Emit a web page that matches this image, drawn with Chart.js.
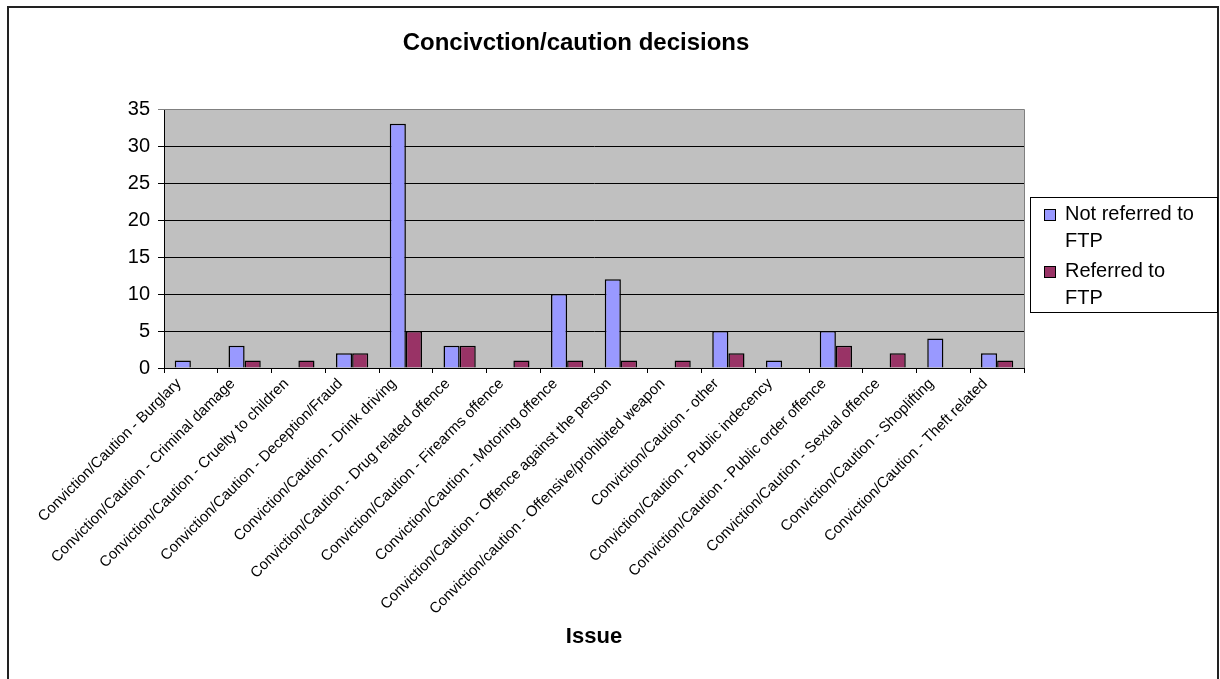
<!DOCTYPE html>
<html>
<head>
<meta charset="utf-8">
<script src="https://cdn.jsdelivr.net/npm/chart.js@4/dist/chart.umd.min.js"></script>
<style>
  html, body { margin: 0; padding: 0; background: #fff; }
  #wrap { width: 1220px; height: 679px; position: relative; }
</style>
</head>
<body>
<div id="wrap"><canvas id="chart1" width="1220" height="679"></canvas></div>
<script>
const categories = [
  "Conviction/Caution - Burglary",
  "Conviction/Caution - Criminal damage",
  "Conviction/Caution - Cruelty to children",
  "Conviction/Caution - Deception/Fraud",
  "Conviction/Caution - Drink driving",
  "Conviction/Caution - Drug related offence",
  "Conviction/Caution - Firearms offence",
  "Conviction/Caution - Motoring offence",
  "Conviction/Caution - Offence against the person",
  "Conviction/caution - Offensive/prohibited weapon",
  "Conviction/Caution - other",
  "Conviction/Caution - Public indecency",
  "Conviction/Caution - Public order offence",
  "Conviction/Caution - Sexual offence",
  "Conviction/Caution - Shoplifting",
  "Conviction/Caution - Theft related"
];
const notReferred = [1, 3, 0, 2, 33, 3, 0, 10, 12, 0, 5, 1, 5, 0, 4, 2];
const referred    = [0, 1, 1, 2, 5, 3, 1, 1, 1, 1, 2, 0, 3, 2, 0, 1];
const yTicks = [0, 5, 10, 15, 20, 25, 30, 35];
const legendLines = [["Not referred to", "FTP"], ["Referred to", "FTP"]];

const ctx1 = document.getElementById('chart1').getContext('2d');

// grey plot area, frame, title and the two-line legend
const decor = {
  id: 'decor',
  beforeDraw(chart) {
    const c = chart.ctx, a = chart.chartArea;
    c.save();
    c.fillStyle = '#fff';
    c.fillRect(0, 0, chart.width, chart.height);
    c.fillStyle = '#C0C0C0';
    c.fillRect(a.left, a.top, a.right - a.left, a.bottom - a.top);
    c.restore();
  },
  afterDraw(chart) {
    const c = chart.ctx, a = chart.chartArea;
    c.save();
    // plot frame right/top in grey
    c.strokeStyle = '#808080';
    c.lineWidth = 1;
    c.beginPath();
    c.moveTo(a.left, a.top + 0.5);
    c.lineTo(a.right + 0.5, a.top + 0.5);
    c.lineTo(a.right + 0.5, a.bottom);
    c.stroke();
    // outer border
    c.strokeStyle = '#222';
    c.lineWidth = 2;
    c.strokeRect(8, 7, 1210, 720);
    // title
    c.fillStyle = '#000';
    c.font = 'bold 24px "Liberation Sans", Arial, sans-serif';
    c.textAlign = 'center';
    c.textBaseline = 'middle';
    c.fillText('Concivction/caution decisions', 576, 43);
    // legend
    c.fillStyle = '#fff';
    c.fillRect(1030, 197, 187, 115);
    c.strokeStyle = '#000';
    c.lineWidth = 1;
    c.strokeRect(1030.5, 197.5, 187, 115);
    c.font = '20px "Liberation Sans", Arial, sans-serif';
    c.textAlign = 'left';
    let y = 214;
    chart.data.datasets.forEach((ds, i) => {
      c.fillStyle = ds.backgroundColor;
      c.fillRect(1044, y - 5, 11, 11);
      c.strokeStyle = '#000';
      c.strokeRect(1044.5, y - 4.5, 11, 11);
      c.fillStyle = '#000';
      legendLines[i].forEach((line, j) => {
        c.fillText(line, 1065, y + j * 27);
      });
      y += 57;
    });
    c.restore();
  }
};

const config = {
  type: 'bar',
  data: {
    labels: categories,
    datasets: [{
      label: "Not referred to FTP",
      backgroundColor: '#9999FF',
      borderColor: '#000',
      borderWidth: 1.5,
      data: notReferred,
    },
    {
      label: "Referred to FTP",
      backgroundColor: '#993366',
      borderColor: '#000',
      borderWidth: 1.5,
      data: referred,
    }]
  },
  options: {
    responsive: false,
    animation: false,
    layout: {
      padding: { top: 109, right: 196, left: 0, bottom: 0 }
    },
    datasets: {
      bar: { categoryPercentage: 0.6, barPercentage: 1.0 }
    },
    plugins: {
      legend: { display: false },
      title: { display: false },
      tooltip: { enabled: false }
    },
    scales: {
      x: {
        grid: {
          offset: true,
          drawOnChartArea: false,
          drawTicks: true,
          tickLength: 5,
          color: '#000'
        },
        border: { color: '#000', width: 1 },
        ticks: {
          color: '#000',
          minRotation: 45,
          maxRotation: 45,
          autoSkip: false,
          labelOffset: -12,
          padding: 2,
          font: { family: '"Liberation Sans", Arial, sans-serif', size: 15 }
        },
        title: {
          display: true,
          text: 'Issue',
          color: '#000',
          font: { family: '"Liberation Sans", Arial, sans-serif', size: 22, weight: 'bold' },
          padding: { top: 0, bottom: 29 }
        },
        afterFit(scale) { scale.height = 311; }
      },
      y: {
        min: 0,
        max: 35,
        afterBuildTicks(scale) { scale.ticks = yTicks.map(v => ({ value: v })); },
        grid: {
          color: (c) => c.tick && c.tick.value === 35 ? '#808080' : '#000',
          tickLength: 6,
          drawTicks: true
        },
        border: { color: '#000', width: 1 },
        ticks: {
          color: '#000',
          padding: 8,
          font: { family: '"Liberation Sans", Arial, sans-serif', size: 20 }
        },
        afterFit(scale) { scale.width = 164; }
      }
    }
  },
  plugins: [decor]
};

const chart1 = new Chart(ctx1, config);
</script>
</body>
</html>
